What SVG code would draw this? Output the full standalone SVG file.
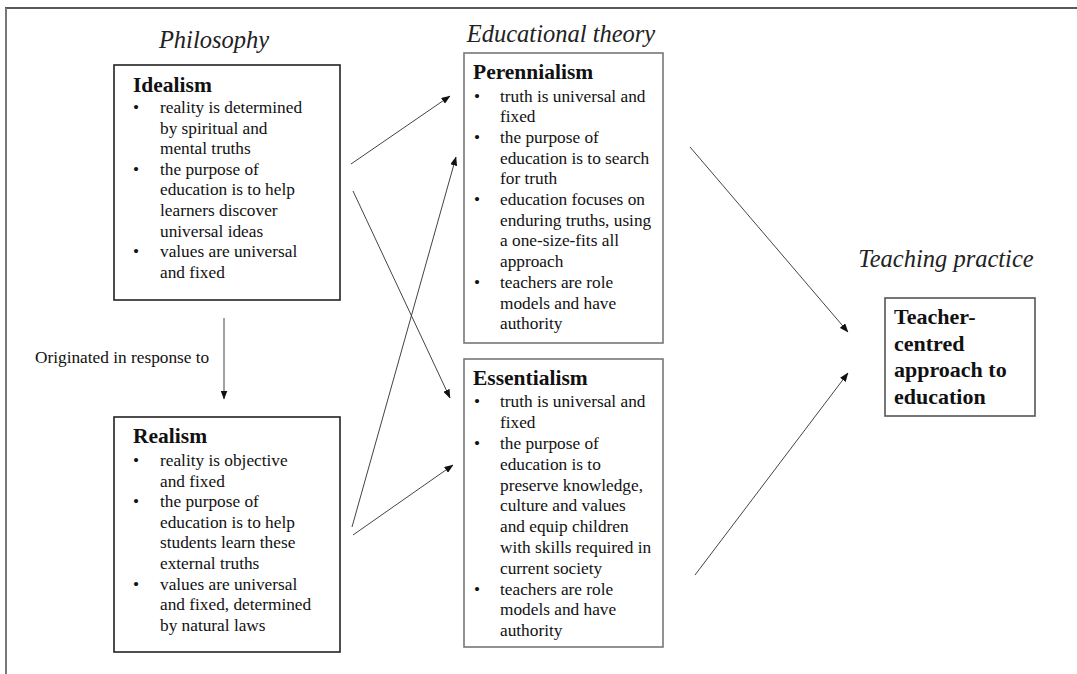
<svg xmlns="http://www.w3.org/2000/svg" width="1077" height="674" viewBox="0 0 1077 674">
<style>
.hdr{font-family:"Liberation Serif","Times New Roman",serif;font-style:italic;font-size:24.5px;fill:#222}
.ttl{font-family:"Liberation Serif","Times New Roman",serif;font-weight:bold;font-size:21.5px;fill:#111}
.txt{font-family:"Liberation Serif","Times New Roman",serif;font-size:17.3px;fill:#111}
.tc{font-family:"Liberation Serif","Times New Roman",serif;font-weight:bold;font-size:22px;fill:#111}
.boxA{fill:#fff;stroke:#222;stroke-width:1.6}
.boxB{fill:#fff;stroke:#777;stroke-width:1.6}
.conn{stroke:#444;stroke-width:1;fill:none;marker-end:url(#ah)}
</style>
<defs>
<marker id="ah" markerWidth="9" markerHeight="7" refX="8.5" refY="3.5" orient="auto" markerUnits="userSpaceOnUse">
<path d="M0,0 L9,3.5 L0,7 z" fill="#111"/>
</marker>
</defs>
<rect width="1077" height="674" fill="#fff"/>
<line x1="5" y1="8" x2="1077" y2="8" stroke="#222" stroke-width="1.5"/>
<line x1="6" y1="8" x2="6" y2="674" stroke="#777" stroke-width="2"/>

<text class="hdr" x="214" y="48" text-anchor="middle">Philosophy</text>
<text class="hdr" x="561" y="42" text-anchor="middle">Educational theory</text>
<text class="hdr" x="946" y="267" text-anchor="middle">Teaching practice</text>

<g id="idealism">
<rect class="boxA" x="114" y="65" width="226" height="235"/>
<text class="ttl" x="133" y="92">Idealism</text>
<g class="txt">
<text x="133" y="113">•</text><text x="160" y="113">reality is determined</text>
<text x="160" y="133.6">by spiritual and</text>
<text x="160" y="154.2">mental truths</text>
<text x="133" y="174.8">•</text><text x="160" y="174.8">the purpose of</text>
<text x="160" y="195.4">education is to help</text>
<text x="160" y="216">learners discover</text>
<text x="160" y="236.6">universal ideas</text>
<text x="133" y="257.2">•</text><text x="160" y="257.2">values are universal</text>
<text x="160" y="277.8">and fixed</text>
</g>
</g>

<g id="realism">
<rect class="boxA" x="114" y="417" width="226" height="235"/>
<text class="ttl" x="133" y="443">Realism</text>
<g class="txt">
<text x="133" y="466">•</text><text x="160" y="466">reality is objective</text>
<text x="160" y="486.6">and fixed</text>
<text x="133" y="507.2">•</text><text x="160" y="507.2">the purpose of</text>
<text x="160" y="527.8">education is to help</text>
<text x="160" y="548.4">students learn these</text>
<text x="160" y="569">external truths</text>
<text x="133" y="589.6">•</text><text x="160" y="589.6">values are universal</text>
<text x="160" y="610.2">and fixed, determined</text>
<text x="160" y="630.8">by natural laws</text>
</g>
</g>

<g id="perennialism">
<rect class="boxB" x="464" y="53" width="199" height="290"/>
<text class="ttl" x="473" y="79.3">Perennialism</text>
<g class="txt">
<text x="474" y="101.5">•</text><text x="500" y="101.5">truth is universal and</text>
<text x="500" y="122.2">fixed</text>
<text x="474" y="142.9">•</text><text x="500" y="142.9">the purpose of</text>
<text x="500" y="163.6">education is to search</text>
<text x="500" y="184.3">for truth</text>
<text x="474" y="205">•</text><text x="500" y="205">education focuses on</text>
<text x="500" y="225.7">enduring truths, using</text>
<text x="500" y="246.4">a one-size-fits all</text>
<text x="500" y="267.1">approach</text>
<text x="474" y="287.8">•</text><text x="500" y="287.8">teachers are role</text>
<text x="500" y="308.5">models and have</text>
<text x="500" y="329.2">authority</text>
</g>
</g>

<g id="essentialism">
<rect class="boxB" x="464" y="359" width="199" height="288"/>
<text class="ttl" x="473" y="385">Essentialism</text>
<g class="txt">
<text x="474" y="407.3">•</text><text x="500" y="407.3">truth is universal and</text>
<text x="500" y="428.1">fixed</text>
<text x="474" y="448.9">•</text><text x="500" y="448.9">the purpose of</text>
<text x="500" y="469.7">education is to</text>
<text x="500" y="490.5">preserve knowledge,</text>
<text x="500" y="511.3">culture and values</text>
<text x="500" y="532.1">and equip children</text>
<text x="500" y="552.9">with skills required in</text>
<text x="500" y="573.7">current society</text>
<text x="474" y="594.5">•</text><text x="500" y="594.5">teachers are role</text>
<text x="500" y="615.3">models and have</text>
<text x="500" y="636.1">authority</text>
</g>
</g>

<g id="teacher">
<rect class="boxB" x="885" y="298" width="150" height="118" style="stroke:#555"/>
<text class="tc" x="894" y="324">Teacher-</text>
<text class="tc" x="894" y="350.5">centred</text>
<text class="tc" x="894" y="377">approach to</text>
<text class="tc" x="894" y="403.5">education</text>
</g>

<g id="connectors">
<line class="conn" x1="224" y1="318" x2="224" y2="399"/>
<line class="conn" x1="351" y1="164" x2="450" y2="96"/>
<line class="conn" x1="353" y1="191" x2="450" y2="398"/>
<line class="conn" x1="352" y1="527" x2="456" y2="157"/>
<line class="conn" x1="353" y1="535" x2="453" y2="465"/>
<line class="conn" x1="690" y1="147" x2="848" y2="332"/>
<line class="conn" x1="695" y1="575" x2="848" y2="373"/>
</g>
<text class="txt" x="35" y="363">Originated in response to</text>
</svg>
